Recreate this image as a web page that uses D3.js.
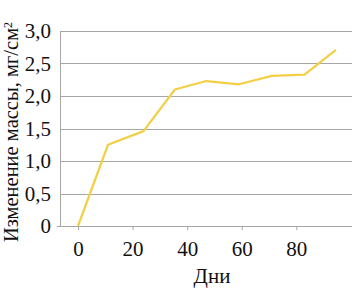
<!DOCTYPE html>
<html>
<head>
<meta charset="utf-8">
<script src="https://cdn.jsdelivr.net/npm/d3@7"></script>
<style>
  body { margin: 0; background: #fff; }
</style>
</head>
<body>
<div class="container"></div>
<script>
var days = [0, 11, 24, 35.5, 47, 59, 71, 83, 94.5];
var massChange = [0, 1.25, 1.46, 2.1, 2.23, 2.18, 2.31, 2.33, 2.71];
var xTicks = [0, 20, 40, 60, 80];
var yTicks = [0, 0.5, 1.0, 1.5, 2.0, 2.5, 3.0];
var yTickLabels = ["0", "0,5", "1,0", "1,5", "2,0", "2,5", "3,0"];

var width = 356, height = 290;
var margin = {left: 60, right: 4, top: 31, bottom: 64};
var serif = "'Liberation Serif', 'Times New Roman', serif";

var svg = d3.select(".container")
    .append("svg")
    .attr("width", width)
    .attr("height", height)
    .attr("font-family", serif);

var x = d3.scaleLinear()
    .domain([-6.6, 100.4])
    .range([margin.left, width - margin.right]);
var y = d3.scaleLinear()
    .domain([0, 3])
    .range([height - margin.bottom, margin.top]);

// gridlines
svg.selectAll(".grid")
    .data(yTicks.slice(1))
    .enter()
    .append("line")
    .attr("x1", margin.left)
    .attr("x2", width - margin.right)
    .attr("y1", d => Math.round(y(d)) + 0.5)
    .attr("y2", d => Math.round(y(d)) + 0.5)
    .attr("stroke", "#a6a6a6")
    .attr("stroke-width", 1);

// y axis
var yAxis = svg.append("g")
    .attr("transform", "translate(" + margin.left + ",0)")
    .call(d3.axisLeft(y).tickValues(yTicks).tickSize(0).tickPadding(9)
        .tickFormat((d, i) => yTickLabels[i]));
yAxis.attr("font-family", serif).attr("font-size", 21);
yAxis.select(".domain").attr("stroke", "#a6a6a6");
yAxis.selectAll("text").attr("fill", "#111");

// x axis
var xAxis = svg.append("g")
    .attr("transform", "translate(0," + Math.round(y(0)) + ")")
    .call(d3.axisBottom(x).tickValues(xTicks).tickSizeInner(4).tickSizeOuter(0).tickPadding(11));
xAxis.attr("font-family", serif).attr("font-size", 21);
xAxis.select(".domain").attr("stroke", "#a6a6a6").attr("d", "M" + (margin.left - 3) + ",0.5H" + (width - margin.right));
xAxis.selectAll(".tick line").attr("stroke", "#a6a6a6");
xAxis.selectAll("text").attr("fill", "#111");

// line
var line = d3.line()
    .x((d, i) => x(days[i]))
    .y(d => y(d));
svg.append("path")
    .datum(massChange)
    .attr("fill", "none")
    .attr("stroke", "#f2cf45")
    .attr("stroke-width", 2.2)
    .attr("stroke-linejoin", "round")
    .attr("d", line);

// axis titles
svg.append("text")
    .attr("x", 212)
    .attr("y", 283)
    .attr("text-anchor", "middle")
    .attr("font-size", 21)
    .attr("fill", "#111")
    .text("Дни");

svg.append("text")
    .attr("transform", "translate(18,132) rotate(-90)")
    .attr("text-anchor", "middle")
    .attr("font-size", 20.5)
    .attr("fill", "#111")
    .html("Изменение массы, мг/см<tspan dy='-6' font-size='12px'>2</tspan>");
</script>
</body>
</html>
